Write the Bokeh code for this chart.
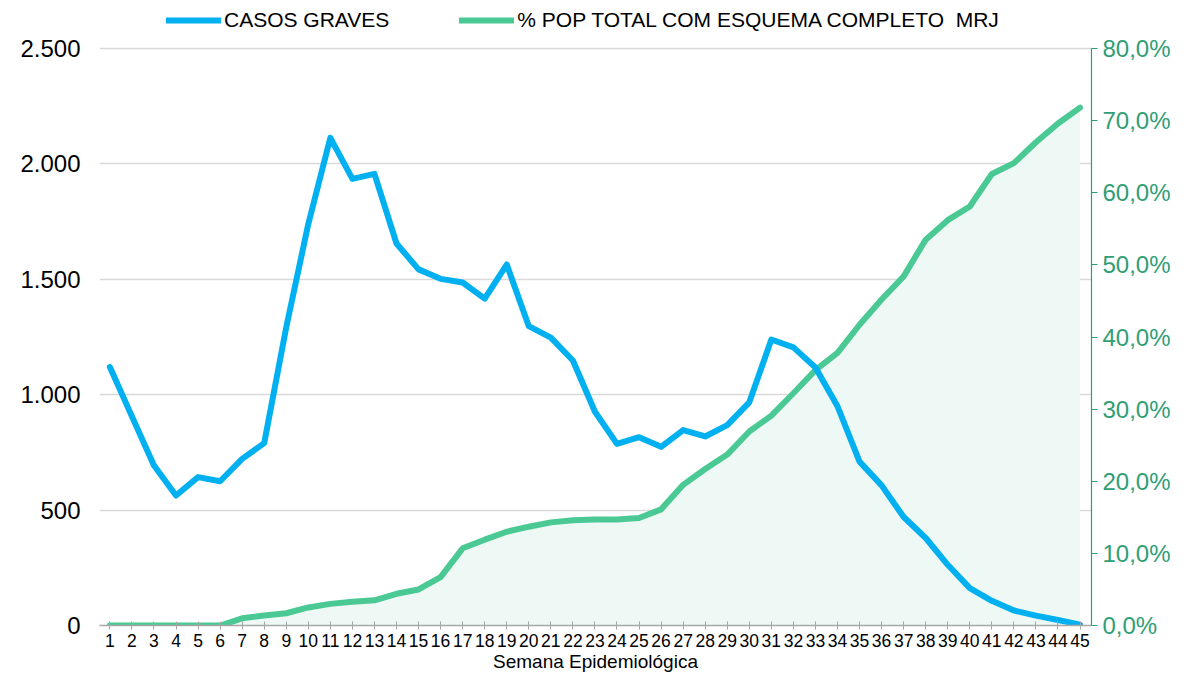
from bokeh.plotting import figure
from bokeh.models import (ColumnDataSource, Range1d, LinearAxis, FixedTicker,
                          Legend, LegendItem)
from bokeh.embed import file_html
from bokeh.resources import INLINE

# ---- data ----
semanas = list(range(1, 46))
casos_graves = [1120, 906, 693, 563, 643, 625, 722, 790, 1292, 1740,
                2113, 1935, 1957, 1655, 1543, 1502, 1486, 1416, 1564, 1297,
                1247, 1148, 926, 787, 816, 774, 847, 819, 868, 967,
                1239, 1205, 1118, 950, 710, 607, 470, 379, 263, 162,
                107, 65, 43, 24, 4]
pct_esquema = [0.0, 0.0, 0.0, 0.0, 0.0, 0.0, 1.0, 1.4, 1.7, 2.5,
               3.0, 3.3, 3.5, 4.4, 5.0, 6.7, 10.7, 11.9, 13.0, 13.7,
               14.3, 14.6, 14.7, 14.7, 14.9, 16.1, 19.5, 21.7, 23.7, 26.9,
               29.1, 32.2, 35.4, 37.8, 41.7, 45.2, 48.4, 53.5, 56.2, 58.1,
               62.6, 64.1, 67.0, 69.6, 71.8]
left_ticks = [0, 500, 1000, 1500, 2000, 2500]
left_labels = ["0", "500", "1.000", "1.500", "2.000", "2.500"]
right_ticks = [0, 10, 20, 30, 40, 50, 60, 70, 80]
right_labels = ["0,0%", "10,0%", "20,0%", "30,0%", "40,0%", "50,0%", "60,0%", "70,0%", "80,0%"]
serie_casos = "CASOS GRAVES"
serie_pct = "% POP TOTAL COM ESQUEMA COMPLETO  MRJ"
x_title = "Semana Epidemiológica"

BLUE = "#00b0f0"
GREEN = "#4ac994"
GREEN_TXT = "#2f9e74"
FILL = "#eef8f4"
FONT = "Liberation Sans"

# layout: plot area spans 577 px for the axis extent, plus 48 px headroom for the legend
AXIS_PX, HEAD_PX = 577, 48
stretch = (AXIS_PX + HEAD_PX) / AXIS_PX
left_max, right_max = left_ticks[-1], right_ticks[-1]

src = ColumnDataSource(dict(x=semanas, casos=casos_graves, pct=pct_esquema,
                            zero=[0] * len(semanas)))

p = figure(width=1173, height=675, output_backend="svg", toolbar_location=None,
           x_range=Range1d(0.53, 45.52), y_range=Range1d(0, left_max * stretch),
           min_border_left=99, min_border_right=79, min_border_top=0,
           min_border_bottom=50, outline_line_color=None)
p.extra_y_ranges = {"pct": Range1d(0, right_max * stretch)}

# area + lines
p.varea(x="x", y1="zero", y2="pct", source=src, fill_color=FILL,
        y_range_name="pct")
r_pct = p.line(x="x", y="pct", source=src, line_color=GREEN, line_width=6,
               line_join="round", line_cap="round", y_range_name="pct")
r_casos = p.line(x="x", y="casos", source=src, line_color=BLUE, line_width=6,
                 line_join="round", line_cap="round")

# grid
p.xgrid.visible = False
p.ygrid.grid_line_color = "#d9d9d9"
p.ygrid.grid_line_width = 1.5
p.ygrid.ticker = FixedTicker(ticks=left_ticks)

# x axis
xa = p.xaxis[0]
xa.ticker = FixedTicker(ticks=semanas)
xa.axis_line_color = "#a6a6a6"
xa.axis_line_width = 1.5
xa.major_tick_line_color = "#a6a6a6"
xa.major_tick_in = 4
xa.major_tick_out = 4
xa.minor_tick_line_color = None
xa.major_label_text_font = FONT
xa.major_label_text_font_size = "17.5px"
xa.major_label_text_color = "#000000"
xa.major_label_standoff = 4
xa.axis_label = x_title
xa.axis_label_text_font = FONT
xa.axis_label_text_font_size = "19px"
xa.axis_label_text_font_style = "normal"
xa.axis_label_text_color = "#000000"
xa.axis_label_standoff = 1

# left axis
ya = p.yaxis[0]
ya.ticker = FixedTicker(ticks=left_ticks)
ya.major_label_overrides = dict(zip(left_ticks, left_labels))
ya.axis_line_color = None
ya.major_tick_line_color = None
ya.minor_tick_line_color = None
ya.major_label_text_font = FONT
ya.major_label_text_font_size = "24px"
ya.major_label_text_color = "#000000"
ya.major_label_standoff = 13

# right axis
ra = LinearAxis(y_range_name="pct", ticker=FixedTicker(ticks=right_ticks),
                bounds=(0, right_max))
ra.major_label_overrides = dict(zip(right_ticks, right_labels))
ra.axis_line_color = GREEN_TXT
ra.axis_line_width = 1.2
ra.major_tick_line_color = GREEN_TXT
ra.major_tick_in = 0
ra.major_tick_out = 6
ra.minor_tick_line_color = None
ra.major_label_text_font = FONT
ra.major_label_text_font_size = "24px"
ra.major_label_text_color = GREEN_TXT
ra.major_label_standoff = 5
p.add_layout(ra, "right")

# legend (inside the headroom above the axis extent)
legend = Legend(items=[LegendItem(label=serie_casos, renderers=[r_casos]),
                       LegendItem(label=serie_pct, renderers=[r_pct])],
                orientation="horizontal", location=(67, 593),
                glyph_width=55, glyph_height=20, label_height=20,
                label_standoff=3, spacing=70, padding=0, margin=0,
                label_text_font=FONT, label_text_font_size="21px",
                label_text_color="#000000",
                border_line_color=None, background_fill_alpha=0)
p.add_layout(legend)

open("out.html", "w").write(file_html(p, INLINE))
